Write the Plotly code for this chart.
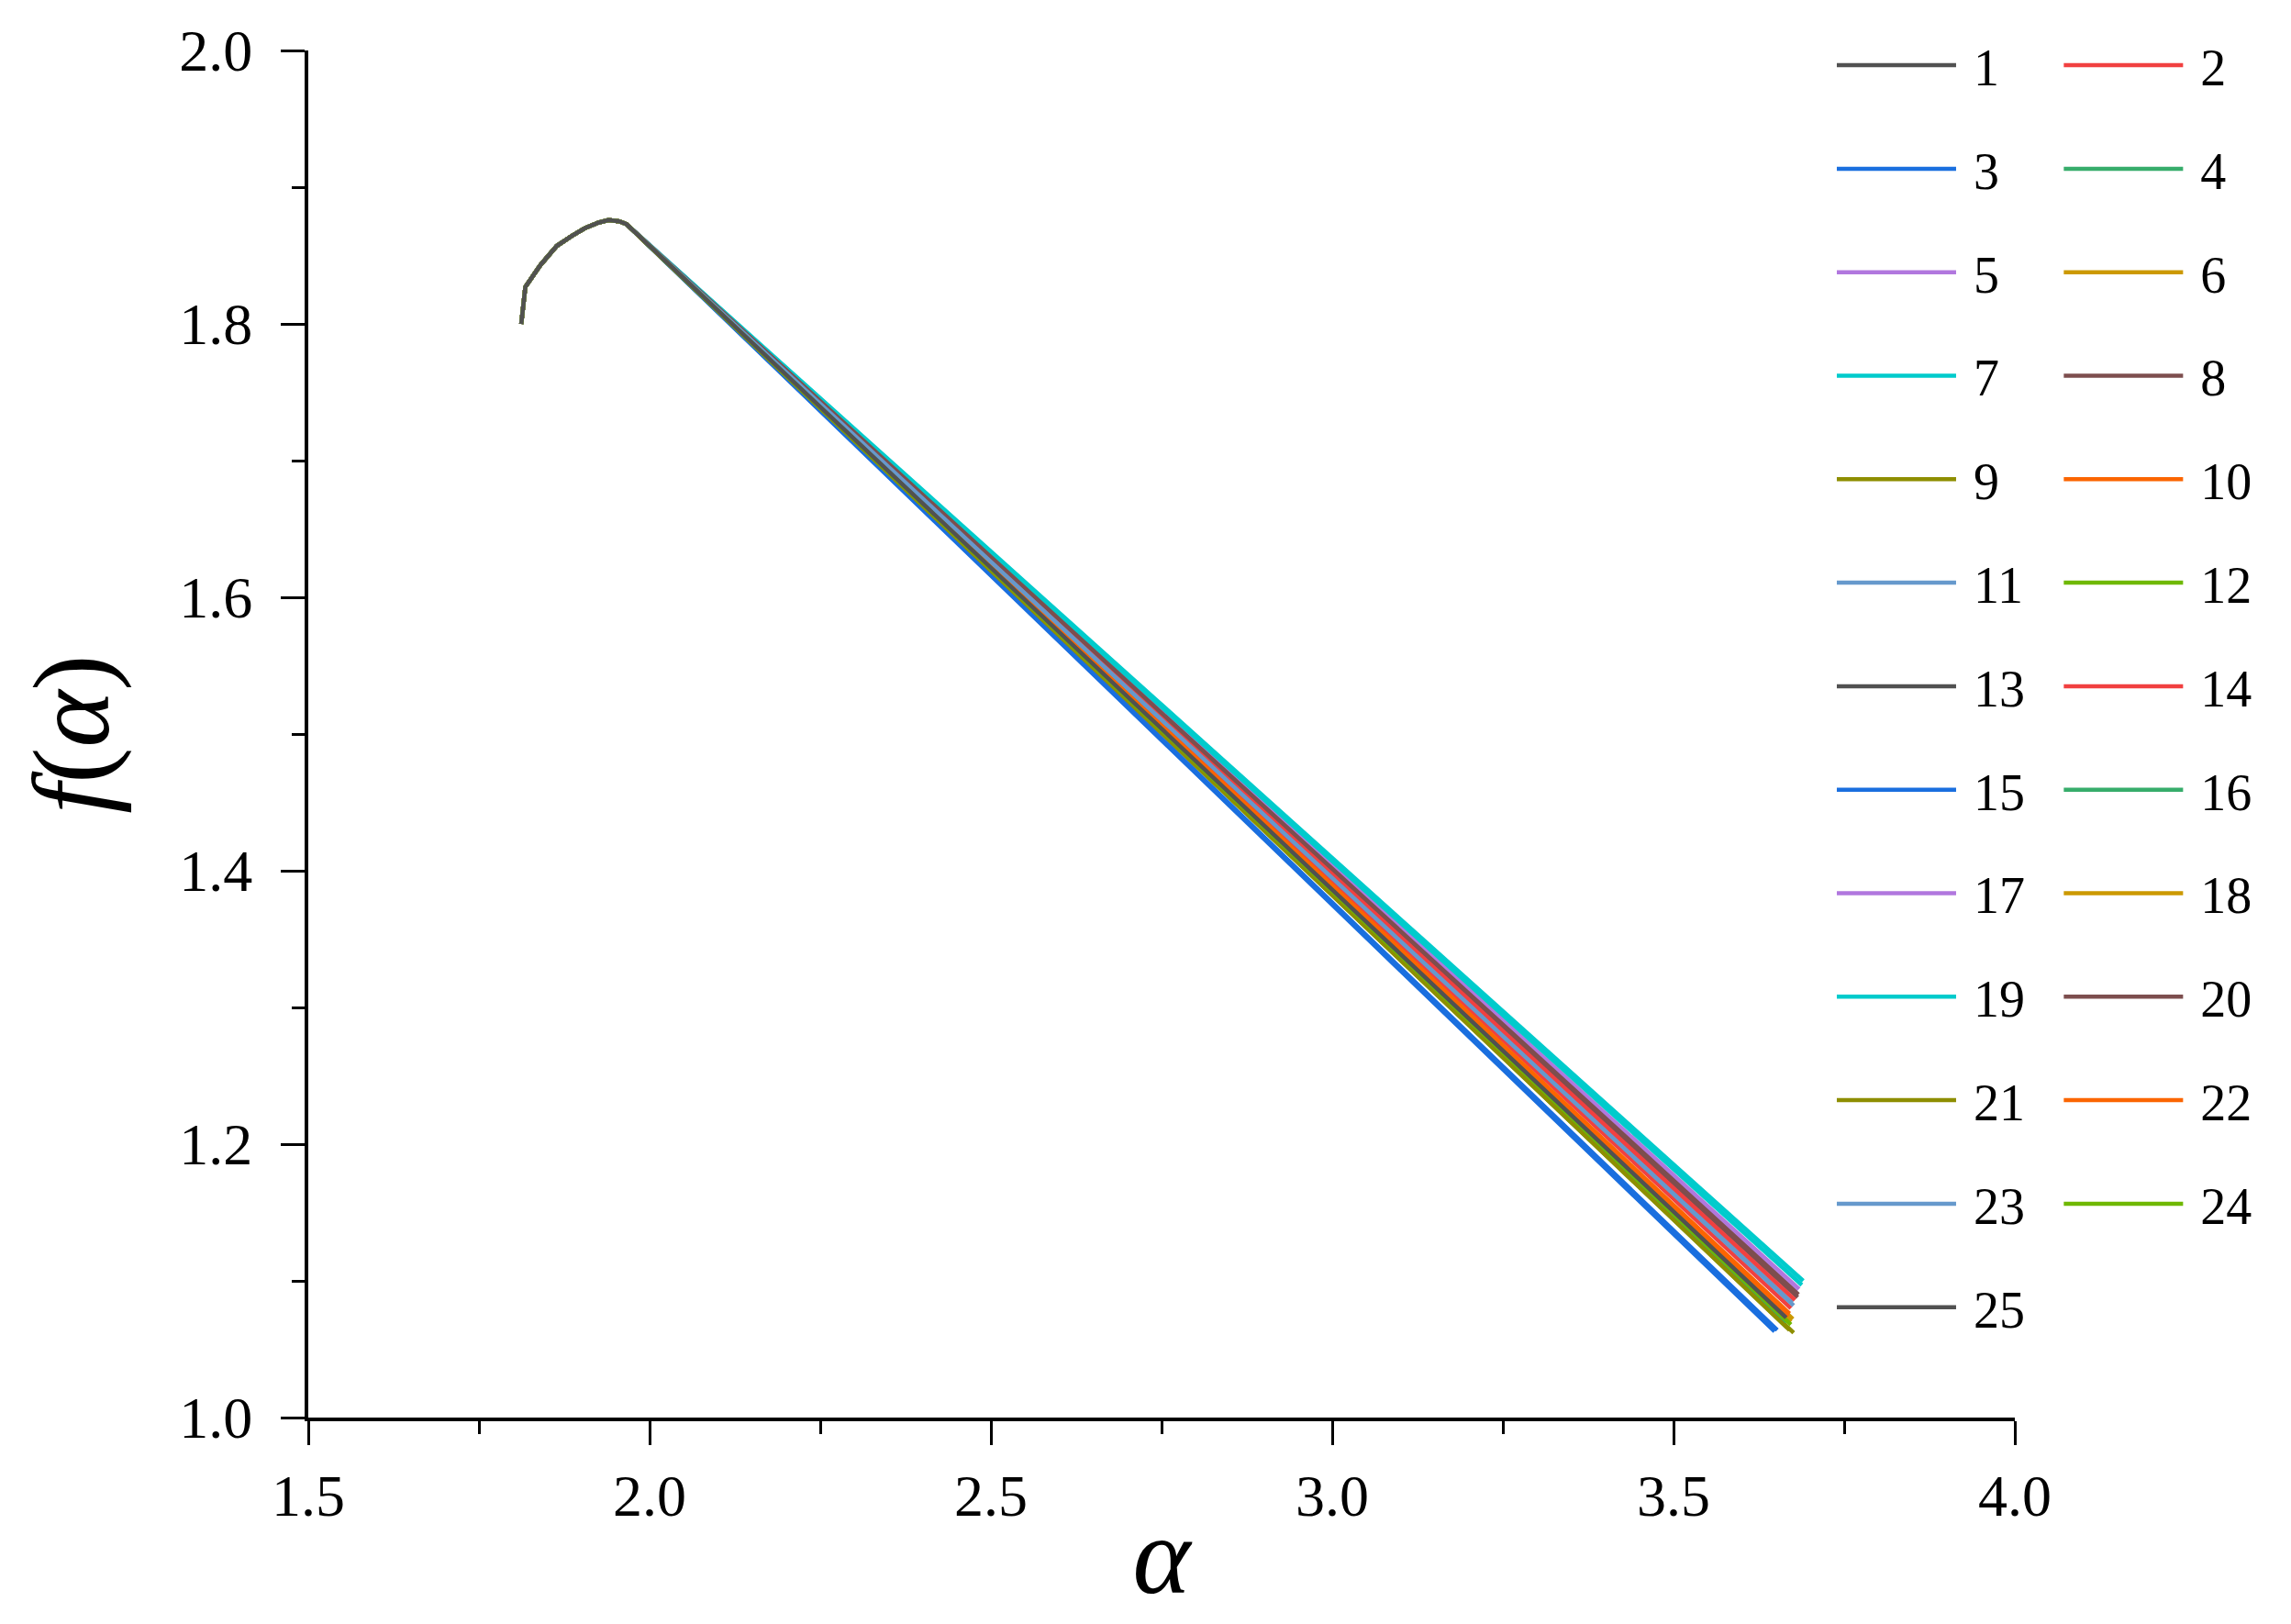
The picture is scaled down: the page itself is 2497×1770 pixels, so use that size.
import plotly.graph_objects as go

# ---- data ----
SERIES = [str(i) for i in range(1, 26)]

# shared left branch (curves overlap there)
HEAD_ALPHA = [1.812, 1.815, 1.818, 1.840, 1.864, 1.885, 1.905, 1.925, 1.940, 1.955, 1.966]
HEAD_F = [1.800, 1.815, 1.827, 1.843, 1.857, 1.864, 1.870, 1.874, 1.876, 1.875, 1.873]

# right-branch end points per series
END_ALPHA = [3.668, 3.672, 3.648, 3.660, 3.680, 3.675, 3.690, 3.682, 3.676, 3.670,
             3.674, 3.666, 3.662, 3.678, 3.652, 3.664, 3.684, 3.672, 3.688, 3.683,
             3.670, 3.668, 3.676, 3.672, 3.665]
END_F = [1.075, 1.080, 1.063, 1.070, 1.092, 1.072, 1.100, 1.088, 1.062, 1.076,
         1.084, 1.066, 1.071, 1.086, 1.064, 1.069, 1.094, 1.070, 1.097, 1.090,
         1.064, 1.074, 1.082, 1.068, 1.073]

PALETTE = ["#515151", "#F14040", "#1A6FDF", "#37AD6B", "#B177DE", "#CC9900",
           "#00CBCC", "#7D4E4E", "#8E8E00", "#FB6501", "#6699CC", "#6FB802"]

X_TICKS = [1.5, 2.0, 2.5, 3.0, 3.5, 4.0]
Y_TICKS = [1.0, 1.2, 1.4, 1.6, 1.8, 2.0]

FONT = "Liberation Serif"

fig = go.Figure()
for i, name in enumerate(SERIES):
    fig.add_trace(go.Scatter(
        x=HEAD_ALPHA + [END_ALPHA[i]],
        y=HEAD_F + [END_F[i]],
        mode="lines",
        name="\u00a0" + name,
        legendgroup=name,
        line=dict(color=PALETTE[i % len(PALETTE)], width=4.5),
        legend="legend" if i % 2 == 0 else "legend2",
    ))

axis_common = dict(
    showline=True, linecolor="black", linewidth=4,
    ticks="outside", ticklen=26, tickwidth=3, tickcolor="black",
    showgrid=False, zeroline=False, mirror=False,
    tickfont=dict(family=FONT, size=64, color="black"),
)

fig.update_xaxes(
    range=[1.5, 4.0], tickvals=X_TICKS, ticktext=[f"{v:.1f}" for v in X_TICKS],
    minor=dict(ticks="outside", ticklen=14, tickwidth=3, tickcolor="black", dtick=0.25, showgrid=False),
    title=dict(text="<i>α</i>", font=dict(family=FONT, size=120, color="black"), standoff=0),
    ticklabelstandoff=0,
    **axis_common,
)
fig.update_yaxes(
    range=[1.0, 2.0], tickvals=Y_TICKS, ticktext=[f"{v:.1f}" for v in Y_TICKS],
    minor=dict(ticks="outside", ticklen=14, tickwidth=3, tickcolor="black", dtick=0.1, showgrid=False),
    title=dict(text="<i>f</i>(<i>α</i>)", font=dict(family=FONT, size=118, color="black"), standoff=38),
    ticklabelstandoff=18,
    **axis_common,
)

leg_common = dict(
    font=dict(family=FONT, size=56, color="black"),
    bgcolor="rgba(0,0,0,0)", borderwidth=0,
    orientation="v", yanchor="top", xanchor="left",
    tracegroupgap=37, itemwidth=130, maxheight=1700,
)

# page body has an 8px margin, so the figure is sized/offset accordingly
fig.update_layout(
    width=2481, height=1754,
    margin=dict(l=328, r=293, t=45, b=216),
    paper_bgcolor="white", plot_bgcolor="white",
    showlegend=True,
    legend=dict(x=0.893, y=1.018, **leg_common),
    legend2=dict(x=1.026, y=1.018, **leg_common),
)

fig.write_html("out.html")
